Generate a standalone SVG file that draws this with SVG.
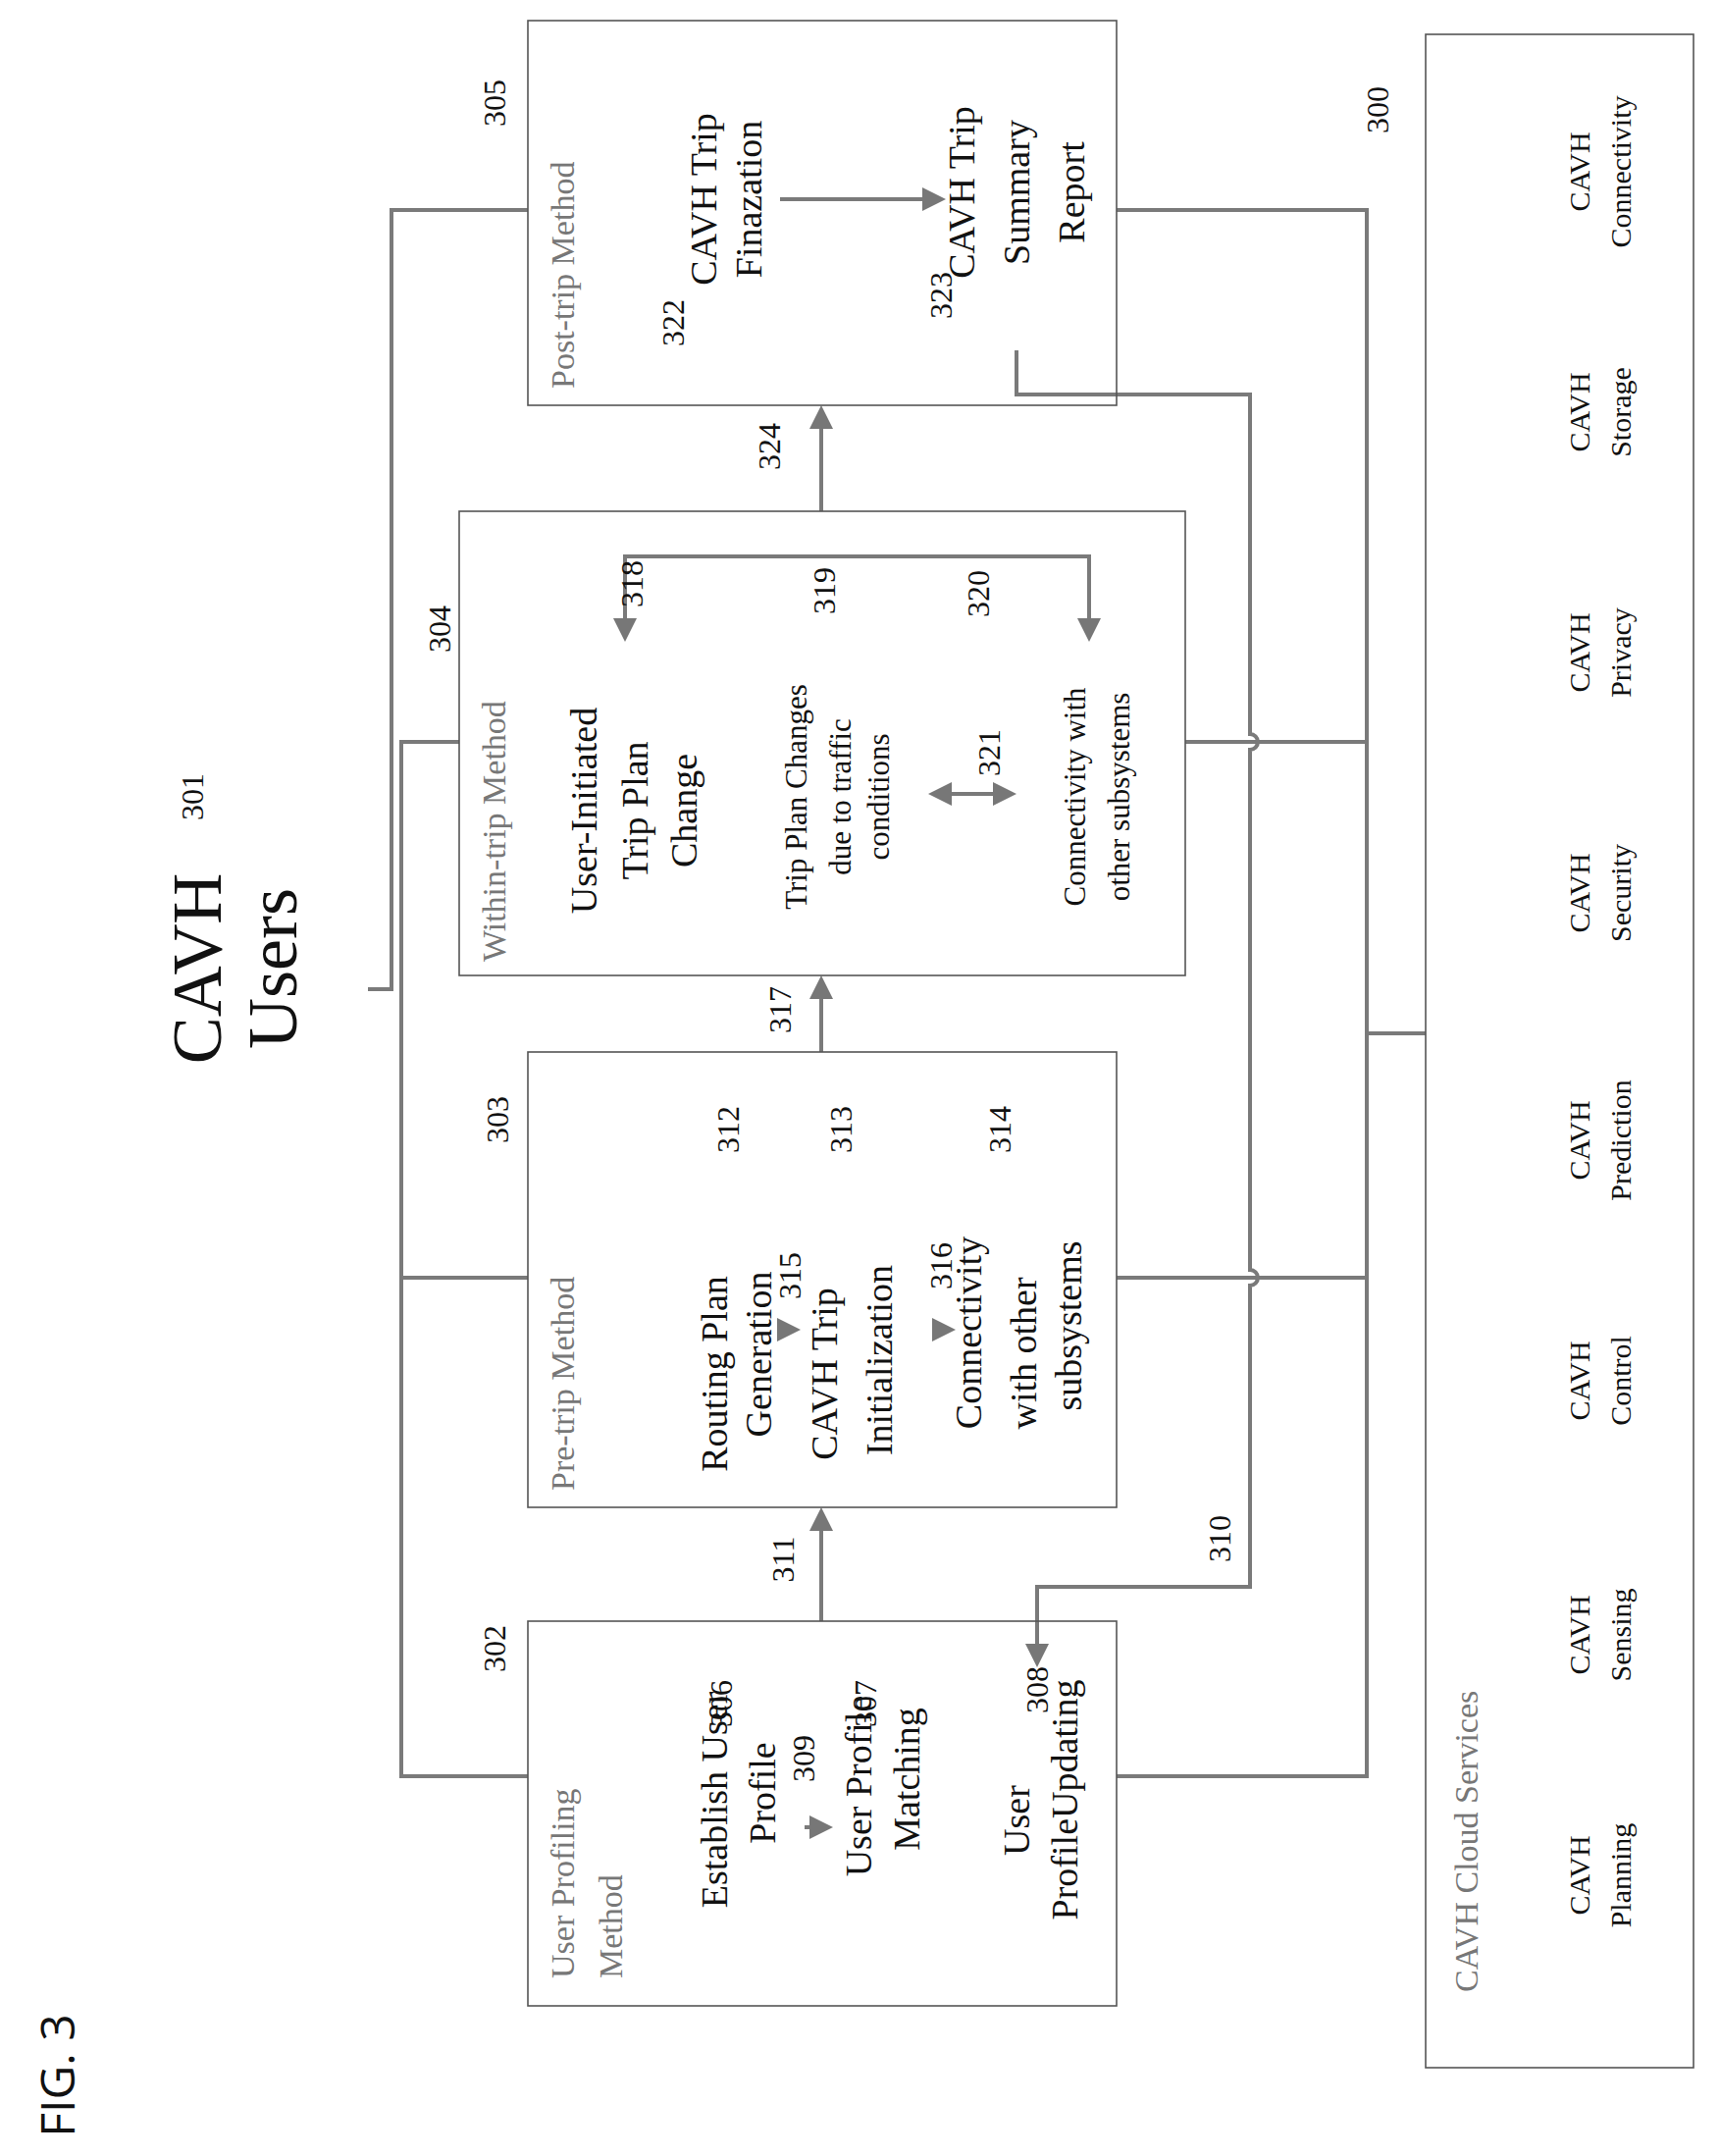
<svg xmlns="http://www.w3.org/2000/svg" width="1753" height="2197" viewBox="0 0 1753 2197">
<defs>
<style>
.b{fill:none;stroke:#555;stroke-width:1.6}
.c{fill:none;stroke:#7a7a7a;stroke-width:4}
text{font-family:"Liberation Serif",serif;fill:#111;text-anchor:middle}
.t{fill:#777;font-size:34px;text-anchor:start}
.n{font-size:32px}
.m{font-size:38px}
.s{font-size:31px}
.k{font-size:30px}
</style>
<marker id="a" markerWidth="6" markerHeight="6" refX="5" refY="3" orient="auto" markerUnits="strokeWidth"><path d="M0,0L6,3L0,6z" fill="#777"/></marker>
<marker id="r" markerWidth="6" markerHeight="6" refX="1" refY="3" orient="auto" markerUnits="strokeWidth"><path d="M6,0L0,3L6,6z" fill="#777"/></marker>
</defs>
<rect width="1753" height="2197" fill="#fff"/>
<g id="connectors">
<path class="c" d="M538,214H399V1008H375"/>
<path class="c" d="M468,756H409V1810H538"/>
<path class="c" d="M409,1302H538"/>
<path class="c" d="M1138,214H1393V1810H1138"/>
<path class="c" d="M1208,756H1393M1138,1302H1393M1393,1053H1453"/>
<path class="c" d="M1036,357V402H1274V748a8,8 0 0 1 0,16V1294a8,8 0 0 1 0,16V1617H1057V1695" marker-end="url(#a)"/>
<path class="c" d="M837,1652V1540" marker-end="url(#a)"/>
<path class="c" d="M837,1072V998" marker-end="url(#a)"/>
<path class="c" d="M837,521V417" marker-end="url(#a)"/>
<path class="c" d="M795,203H960" marker-end="url(#a)"/>
<path class="c" d="M637,650V567H1110V650" marker-start="url(#r)" marker-end="url(#a)"/>
<path class="c" d="M950,809H1032" marker-start="url(#r)" marker-end="url(#a)"/>
<path class="c" d="M792,1355H812" marker-end="url(#a)"/>
<path class="c" d="M950,1355H970" marker-end="url(#a)"/>
<path class="c" d="M820,1862H845" marker-end="url(#a)"/>
</g>
<g id="fig"><text transform="translate(76,2115) rotate(-90)" style="font-family:'Open Sans',sans-serif;font-size:48px">FIG. 3</text></g>
<g id="n301">
<text transform="translate(225,987) rotate(-90)" style="font-size:72px">CAVH</text>
<text transform="translate(302,987) rotate(-90)" style="font-size:72px">Users</text>
<text class="n" transform="translate(207,812) rotate(-90)">301</text>
</g>
<g id="n305">
<rect class="b" x="538" y="21" width="600" height="392"/>
<text class="t" transform="translate(585,396) rotate(-90)">Post-trip Method</text>
<text class="n" transform="translate(515,105) rotate(-90)">305</text>
<text class="n" transform="translate(697,329) rotate(-90)">322</text>
<text class="m" transform="translate(730,203) rotate(-90)">CAVH Trip</text>
<text class="m" transform="translate(776,203) rotate(-90)">Finazation</text>
<text class="n" transform="translate(970,301) rotate(-90)">323</text>
<text class="m" transform="translate(993,196) rotate(-90)">CAVH Trip</text>
<text class="m" transform="translate(1049,196) rotate(-90)">Summary</text>
<text class="m" transform="translate(1105,196) rotate(-90)">Report</text>
</g>
<text class="n" transform="translate(795,455) rotate(-90)">324</text>
<g id="n304">
<rect class="b" x="468" y="521" width="740" height="473"/>
<text class="t" transform="translate(515,980) rotate(-90)">Within-trip Method</text>
<text class="n" transform="translate(459,641) rotate(-90)">304</text>
<text class="n" transform="translate(655,595) rotate(-90)">318</text>
<text class="n" transform="translate(851,602) rotate(-90)">319</text>
<text class="n" transform="translate(1008,605) rotate(-90)">320</text>
<text class="m" transform="translate(608,826) rotate(-90)">User-Initiated</text>
<text class="m" transform="translate(660,826) rotate(-90)">Trip Plan</text>
<text class="m" transform="translate(710,826) rotate(-90)">Change</text>
<text class="s" transform="translate(822,812) rotate(-90)">Trip Plan Changes</text>
<text class="s" transform="translate(867,812) rotate(-90)">due to traffic</text>
<text class="s" transform="translate(906,812) rotate(-90)">conditions</text>
<text class="n" transform="translate(1019,767) rotate(-90)">321</text>
<text class="s" transform="translate(1106,812) rotate(-90)">Connectivity with</text>
<text class="s" transform="translate(1151,812) rotate(-90)">other subsystems</text>
</g>
<text class="n" transform="translate(806,1029) rotate(-90)">317</text>
<g id="n303">
<rect class="b" x="538" y="1072" width="600" height="464"/>
<text class="t" transform="translate(585,1519) rotate(-90)">Pre-trip Method</text>
<text class="n" transform="translate(518,1141) rotate(-90)">303</text>
<text class="n" transform="translate(753,1151) rotate(-90)">312</text>
<text class="n" transform="translate(868,1151) rotate(-90)">313</text>
<text class="n" transform="translate(1030,1151) rotate(-90)">314</text>
<text class="m" transform="translate(741,1400) rotate(-90)">Routing Plan</text>
<text class="m" transform="translate(786,1380) rotate(-90)">Generation</text>
<text class="n" transform="translate(816,1300) rotate(-90)">315</text>
<text class="m" transform="translate(853,1400) rotate(-90)">CAVH Trip</text>
<text class="m" transform="translate(909,1386) rotate(-90)">Initialization</text>
<text class="n" transform="translate(970,1290) rotate(-90)">316</text>
<text class="m" transform="translate(1000,1358) rotate(-90)">Connectivity</text>
<text class="m" transform="translate(1056,1379) rotate(-90)">with other</text>
<text class="m" transform="translate(1102,1351) rotate(-90)">subsystems</text>
</g>
<text class="n" transform="translate(809,1589) rotate(-90)">311</text>
<text class="n" transform="translate(1254,1568) rotate(-90)">310</text>
<g id="n302">
<rect class="b" x="538" y="1652" width="600" height="392"/>
<text class="t" transform="translate(585,2016) rotate(-90)">User Profiling</text>
<text class="t" transform="translate(634,2016) rotate(-90)">Method</text>
<text class="n" transform="translate(515,1680) rotate(-90)">302</text>
<text class="m" transform="translate(741,1834) rotate(-90)">Establish User</text>
<text class="n" transform="translate(746,1736) rotate(-90)">306</text>
<text class="m" transform="translate(790,1827) rotate(-90)">Profile</text>
<text class="n" transform="translate(830,1792) rotate(-90)">309</text>
<text class="m" transform="translate(888,1820) rotate(-90)">User Profile</text>
<text class="n" transform="translate(893,1736) rotate(-90)">307</text>
<text class="m" transform="translate(937,1813) rotate(-90)">Matching</text>
<text class="m" transform="translate(1049,1855) rotate(-90)">User</text>
<text class="m" transform="translate(1098,1834) rotate(-90)">ProfileUpdating</text>
<text class="n" transform="translate(1068,1722) rotate(-90)">308</text>
</g>
<g id="n300">
<rect class="b" x="1453" y="35" width="273" height="2072"/>
<text class="n" transform="translate(1415,112) rotate(-90)">300</text>
<text class="t" transform="translate(1506,2030) rotate(-90)">CAVH Cloud Services</text>
<text class="k" transform="translate(1620,1911) rotate(-90)">CAVH</text><text class="k" transform="translate(1662,1911) rotate(-90)">Planning</text>
<text class="k" transform="translate(1620,1666) rotate(-90)">CAVH</text><text class="k" transform="translate(1662,1666) rotate(-90)">Sensing</text>
<text class="k" transform="translate(1620,1407) rotate(-90)">CAVH</text><text class="k" transform="translate(1662,1407) rotate(-90)">Control</text>
<text class="k" transform="translate(1620,1162) rotate(-90)">CAVH</text><text class="k" transform="translate(1662,1162) rotate(-90)">Prediction</text>
<text class="k" transform="translate(1620,910) rotate(-90)">CAVH</text><text class="k" transform="translate(1662,910) rotate(-90)">Security</text>
<text class="k" transform="translate(1620,665) rotate(-90)">CAVH</text><text class="k" transform="translate(1662,665) rotate(-90)">Privacy</text>
<text class="k" transform="translate(1620,420) rotate(-90)">CAVH</text><text class="k" transform="translate(1662,420) rotate(-90)">Storage</text>
<text class="k" transform="translate(1620,175) rotate(-90)">CAVH</text><text class="k" transform="translate(1662,175) rotate(-90)">Connectivity</text>
</g>
</svg>
